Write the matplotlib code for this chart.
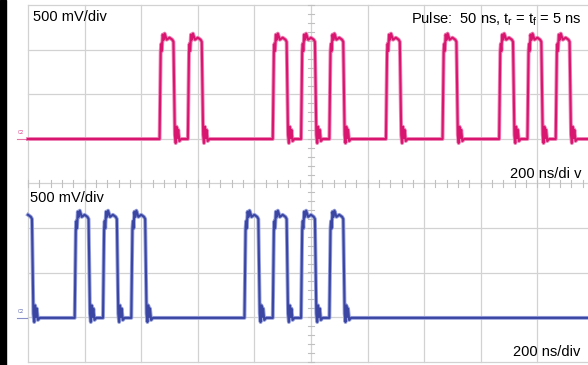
import matplotlib
matplotlib.use('Agg')
import matplotlib.pyplot as plt
from matplotlib.patches import Rectangle
import numpy as np

plt.rcParams['font.family'] = ['Liberation Sans', 'DejaVu Sans']
plt.rcParams['mathtext.fontset'] = 'custom'
plt.rcParams['mathtext.rm'] = 'Liberation Sans'
plt.rcParams['mathtext.it'] = 'Liberation Sans'

# rising edges (ns) of the pulses on each channel
top_rises = [465, 565, 865, 965, 1065, 1265, 1465, 1665, 1765, 1865]
bottom_rises = [-35, 165, 265, 365, 765, 865, 965, 1065]

# levels in divisions (500 mV/div)
top_low, top_high = 1.0, 3.3
bottom_low, bottom_high = -3.02, -0.68

# one 50 ns pulse: time from rise (ns), fraction of amplitude
pulse_t = [0, 4, 6, 8, 11, 14, 18, 25, 35, 45, 49, 54, 57, 60, 63, 66, 70, 76]
pulse_v = [0, 0.86, 0.93, 0.86, 1.02, 0.97, 1.03, 0.97, 0.99, 0.97, 0.95,
           0.04, -0.04, 0.12, 0.01, 0.09, -0.02, 0]

W, H = 588, 365
NS_PER_PX = 3.534
X0 = 28           # pixel column of t = 0
Y0 = 183.5        # pixel row of 0 div
PX_PER_DIV = 44.5


def trace(t, rises, low, high):
    v = np.full_like(t, low)
    for r in rises:
        v += (high - low) * np.interp(t - r, pulse_t, pulse_v, left=0, right=0)
    return v


fig = plt.figure(figsize=(W / 100, H / 100), dpi=100)
ax = fig.add_axes([0, 0, 1, 1])
ax.set_xlim(-X0 * NS_PER_PX, (W - X0) * NS_PER_PX)
ax.set_ylim(-(H - Y0) / PX_PER_DIV, Y0 / PX_PER_DIV)
ax.axis('off')

grid_c = '#d2d2d2'
for x in range(0, 2001, 200):
    ax.plot([x, x], [-4, 4], color=grid_c, lw=0.9, zorder=1)
for y in range(-4, 5):
    ax.plot([0, 2000], [y, y], color=grid_c, lw=0.9, zorder=1)

# minor ticks on the centre lines
for x in np.arange(0, 2001, 40):
    ax.plot([x, x], [-0.07, 0.07], color='#c0c0c0', lw=0.8, zorder=1)
for y in np.arange(-4, 4.01, 0.2):
    ax.plot([990, 1010], [y, y], color='#c0c0c0', lw=0.8, zorder=1)

t = np.arange(0, (W - X0) * NS_PER_PX, 0.5)
v_top = trace(t, top_rises, top_low, top_high)
v_bot = trace(t, bottom_rises, bottom_low, bottom_high)

ax.plot(t, v_top, color='#ee86b8', lw=2.8, zorder=2, solid_joinstyle='round')
ax.plot(t, v_top, color='#d8166f', lw=1.5, zorder=3)
ax.plot(t, v_bot, color='#98a2dc', lw=2.8, zorder=2, solid_joinstyle='round')
ax.plot(t, v_bot, color='#3a46a2', lw=1.5, zorder=3)

# channel markers
for low, col in [(top_low, '#d8166f'), (bottom_low, '#3a46a2')]:
    ax.text(-25, low + 0.08, 'C2', fontsize=3.5, color=col, ha='center', va='bottom', alpha=0.8)
    ax.plot([-38, -2], [low, low], color=col, lw=0.8, alpha=0.6)

# black bar on the left edge
fig.patches.append(Rectangle((0, 0), 6 / W, 1, transform=fig.transFigure,
                             color='black', zorder=5))


def px(x, y):
    return x / W, 1 - y / H


fig.text(*px(33, 17), '500 mV/div', fontsize=10.5, ha='left', va='center')
fig.text(*px(30, 198), '500 mV/div', fontsize=10.5, ha='left', va='center')
fig.text(*px(582, 19), r'Pulse:  50 ns, t$_\mathregular{r}$ = t$_\mathregular{f}$ = 5 ns',
         fontsize=10.5, ha='right', va='center')
fig.text(*px(581, 174), '200 ns/di v', fontsize=10.5, ha='right', va='center')
fig.text(*px(580, 352), '200 ns/div', fontsize=10.5, ha='right', va='center')

fig.savefig('out.png', dpi=100, facecolor='white')
